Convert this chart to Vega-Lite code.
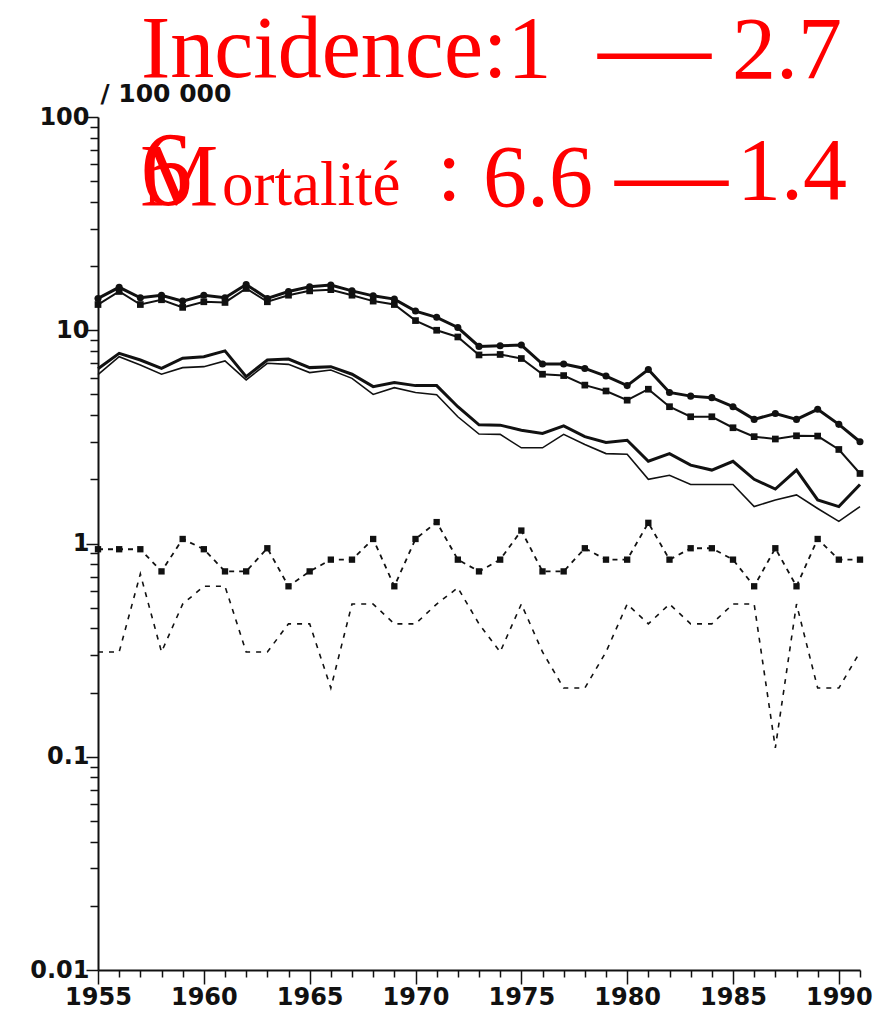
{
  "$schema": "https://vega.github.io/schema/vega-lite/v6.json",
  "autosize": {"type": "none"},
  "width": 762,
  "height": 853,
  "padding": {"left": 98, "top": 117, "right": 25, "bottom": 53},
  "background": "white",
  "config": {"view": {"stroke": null}},
  "datasets": {
    "series": [
    {"s":"A","year":1955,"v":14.1},{"s":"A","year":1956,"v":15.9},{"s":"A","year":1957,"v":14.2},{"s":"A","year":1958,"v":14.6},{"s":"A","year":1959,"v":13.7},{"s":"A","year":1960,"v":14.6},{"s":"A","year":1961,"v":14.2},{"s":"A","year":1962,"v":16.4},{"s":"A","year":1963,"v":14.1},{"s":"A","year":1964,"v":15.2},{"s":"A","year":1965,"v":16.0},{"s":"A","year":1966,"v":16.3},{"s":"A","year":1967,"v":15.3},{"s":"A","year":1968,"v":14.5},{"s":"A","year":1969,"v":14.0},{"s":"A","year":1970,"v":12.3},{"s":"A","year":1971,"v":11.5},{"s":"A","year":1972,"v":10.3},{"s":"A","year":1973,"v":8.4},{"s":"A","year":1974,"v":8.46},{"s":"A","year":1975,"v":8.52},{"s":"A","year":1976,"v":6.94},{"s":"A","year":1977,"v":6.94},{"s":"A","year":1978,"v":6.62},{"s":"A","year":1979,"v":6.1},{"s":"A","year":1980,"v":5.5},{"s":"A","year":1981,"v":6.55},{"s":"A","year":1982,"v":5.11},{"s":"A","year":1983,"v":4.91},{"s":"A","year":1984,"v":4.83},{"s":"A","year":1985,"v":4.38},{"s":"A","year":1986,"v":3.82},{"s":"A","year":1987,"v":4.07},{"s":"A","year":1988,"v":3.82},{"s":"A","year":1989,"v":4.26},{"s":"A","year":1990,"v":3.62},{"s":"A","year":1991,"v":3.0},
    {"s":"B","year":1955,"v":13.2},{"s":"B","year":1956,"v":15.2},{"s":"B","year":1957,"v":13.2},{"s":"B","year":1958,"v":13.9},{"s":"B","year":1959,"v":12.8},{"s":"B","year":1960,"v":13.6},{"s":"B","year":1961,"v":13.5},{"s":"B","year":1962,"v":15.7},{"s":"B","year":1963,"v":13.6},{"s":"B","year":1964,"v":14.6},{"s":"B","year":1965,"v":15.3},{"s":"B","year":1966,"v":15.5},{"s":"B","year":1967,"v":14.6},{"s":"B","year":1968,"v":13.7},{"s":"B","year":1969,"v":13.2},{"s":"B","year":1970,"v":11.1},{"s":"B","year":1971,"v":10.0},{"s":"B","year":1972,"v":9.3},{"s":"B","year":1973,"v":7.66},{"s":"B","year":1974,"v":7.7},{"s":"B","year":1975,"v":7.37},{"s":"B","year":1976,"v":6.22},{"s":"B","year":1977,"v":6.13},{"s":"B","year":1978,"v":5.53},{"s":"B","year":1979,"v":5.19},{"s":"B","year":1980,"v":4.7},{"s":"B","year":1981,"v":5.29},{"s":"B","year":1982,"v":4.38},{"s":"B","year":1983,"v":3.93},{"s":"B","year":1984,"v":3.93},{"s":"B","year":1985,"v":3.49},{"s":"B","year":1986,"v":3.17},{"s":"B","year":1987,"v":3.09},{"s":"B","year":1988,"v":3.2},{"s":"B","year":1989,"v":3.19},{"s":"B","year":1990,"v":2.76},{"s":"B","year":1991,"v":2.13},
    {"s":"C","year":1955,"v":6.6},{"s":"C","year":1956,"v":7.79},{"s":"C","year":1957,"v":7.25},{"s":"C","year":1958,"v":6.62},{"s":"C","year":1959,"v":7.4},{"s":"C","year":1960,"v":7.52},{"s":"C","year":1961,"v":8.0},{"s":"C","year":1962,"v":6.06},{"s":"C","year":1963,"v":7.25},{"s":"C","year":1964,"v":7.33},{"s":"C","year":1965,"v":6.68},{"s":"C","year":1966,"v":6.75},{"s":"C","year":1967,"v":6.22},{"s":"C","year":1968,"v":5.44},{"s":"C","year":1969,"v":5.69},{"s":"C","year":1970,"v":5.5},{"s":"C","year":1971,"v":5.5},{"s":"C","year":1972,"v":4.38},{"s":"C","year":1973,"v":3.6},{"s":"C","year":1974,"v":3.59},{"s":"C","year":1975,"v":3.4},{"s":"C","year":1976,"v":3.28},{"s":"C","year":1977,"v":3.56},{"s":"C","year":1978,"v":3.17},{"s":"C","year":1979,"v":2.98},{"s":"C","year":1980,"v":3.05},{"s":"C","year":1981,"v":2.43},{"s":"C","year":1982,"v":2.64},{"s":"C","year":1983,"v":2.33},{"s":"C","year":1984,"v":2.21},{"s":"C","year":1985,"v":2.43},{"s":"C","year":1986,"v":2.0},{"s":"C","year":1987,"v":1.8},{"s":"C","year":1988,"v":2.21},{"s":"C","year":1989,"v":1.6},{"s":"C","year":1990,"v":1.49},{"s":"C","year":1991,"v":1.89},
    {"s":"D","year":1955,"v":6.2},{"s":"D","year":1956,"v":7.52},{"s":"D","year":1957,"v":6.87},{"s":"D","year":1958,"v":6.22},{"s":"D","year":1959,"v":6.68},{"s":"D","year":1960,"v":6.75},{"s":"D","year":1961,"v":7.18},{"s":"D","year":1962,"v":5.85},{"s":"D","year":1963,"v":7.0},{"s":"D","year":1964,"v":6.92},{"s":"D","year":1965,"v":6.33},{"s":"D","year":1966,"v":6.51},{"s":"D","year":1967,"v":5.95},{"s":"D","year":1968,"v":5.0},{"s":"D","year":1969,"v":5.38},{"s":"D","year":1970,"v":5.11},{"s":"D","year":1971,"v":4.98},{"s":"D","year":1972,"v":3.93},{"s":"D","year":1973,"v":3.26},{"s":"D","year":1974,"v":3.25},{"s":"D","year":1975,"v":2.81},{"s":"D","year":1976,"v":2.81},{"s":"D","year":1977,"v":3.25},{"s":"D","year":1978,"v":2.91},{"s":"D","year":1979,"v":2.64},{"s":"D","year":1980,"v":2.62},{"s":"D","year":1981,"v":2.0},{"s":"D","year":1982,"v":2.09},{"s":"D","year":1983,"v":1.89},{"s":"D","year":1984,"v":1.89},{"s":"D","year":1985,"v":1.89},{"s":"D","year":1986,"v":1.49},{"s":"D","year":1987,"v":1.6},{"s":"D","year":1988,"v":1.69},{"s":"D","year":1989,"v":1.46},{"s":"D","year":1990,"v":1.27},{"s":"D","year":1991,"v":1.49},
    {"s":"E","year":1955,"v":0.94},{"s":"E","year":1956,"v":0.94},{"s":"E","year":1957,"v":0.94},{"s":"E","year":1958,"v":0.74},{"s":"E","year":1959,"v":1.05},{"s":"E","year":1960,"v":0.94},{"s":"E","year":1961,"v":0.74},{"s":"E","year":1962,"v":0.74},{"s":"E","year":1963,"v":0.95},{"s":"E","year":1964,"v":0.63},{"s":"E","year":1965,"v":0.74},{"s":"E","year":1966,"v":0.84},{"s":"E","year":1967,"v":0.84},{"s":"E","year":1968,"v":1.05},{"s":"E","year":1969,"v":0.63},{"s":"E","year":1970,"v":1.05},{"s":"E","year":1971,"v":1.26},{"s":"E","year":1972,"v":0.84},{"s":"E","year":1973,"v":0.74},{"s":"E","year":1974,"v":0.84},{"s":"E","year":1975,"v":1.15},{"s":"E","year":1976,"v":0.74},{"s":"E","year":1977,"v":0.74},{"s":"E","year":1978,"v":0.95},{"s":"E","year":1979,"v":0.84},{"s":"E","year":1980,"v":0.84},{"s":"E","year":1981,"v":1.25},{"s":"E","year":1982,"v":0.84},{"s":"E","year":1983,"v":0.95},{"s":"E","year":1984,"v":0.95},{"s":"E","year":1985,"v":0.84},{"s":"E","year":1986,"v":0.63},{"s":"E","year":1987,"v":0.95},{"s":"E","year":1988,"v":0.63},{"s":"E","year":1989,"v":1.05},{"s":"E","year":1990,"v":0.84},{"s":"E","year":1991,"v":0.84},
    {"s":"F","year":1955,"v":0.31},{"s":"F","year":1956,"v":0.31},{"s":"F","year":1957,"v":0.72},{"s":"F","year":1958,"v":0.31},{"s":"F","year":1959,"v":0.52},{"s":"F","year":1960,"v":0.63},{"s":"F","year":1961,"v":0.63},{"s":"F","year":1962,"v":0.31},{"s":"F","year":1963,"v":0.31},{"s":"F","year":1964,"v":0.42},{"s":"F","year":1965,"v":0.42},{"s":"F","year":1966,"v":0.21},{"s":"F","year":1967,"v":0.52},{"s":"F","year":1968,"v":0.52},{"s":"F","year":1969,"v":0.42},{"s":"F","year":1970,"v":0.42},{"s":"F","year":1971,"v":0.52},{"s":"F","year":1972,"v":0.62},{"s":"F","year":1973,"v":0.42},{"s":"F","year":1974,"v":0.31},{"s":"F","year":1975,"v":0.52},{"s":"F","year":1976,"v":0.31},{"s":"F","year":1977,"v":0.21},{"s":"F","year":1978,"v":0.21},{"s":"F","year":1979,"v":0.31},{"s":"F","year":1980,"v":0.52},{"s":"F","year":1981,"v":0.42},{"s":"F","year":1982,"v":0.52},{"s":"F","year":1983,"v":0.42},{"s":"F","year":1984,"v":0.42},{"s":"F","year":1985,"v":0.52},{"s":"F","year":1986,"v":0.52},{"s":"F","year":1987,"v":0.11},{"s":"F","year":1988,"v":0.52},{"s":"F","year":1989,"v":0.21},{"s":"F","year":1990,"v":0.21},{"s":"F","year":1991,"v":0.31}
    ],
    "notes": [
      {"t": "Incidence:1", "style": "big", "year": 1957.03, "v": 154.0},
      {"t": "—", "style": "dash", "year": 1978.62, "v": 145.9},
      {"t": "2.7", "style": "big", "year": 1984.95, "v": 152.4},
      {"t": "6", "style": "six", "year": 1956.98, "v": 38.67},
      {"t": "M", "style": "big", "year": 1956.98, "v": 38.67},
      {"t": "ortalité", "style": "small", "year": 1960.86, "v": 38.67},
      {"t": ":", "style": "big", "year": 1971.02, "v": 40.82},
      {"t": "6.6", "style": "big", "year": 1973.19, "v": 38.25},
      {"t": "—", "style": "dash", "year": 1979.43, "v": 37.03},
      {"t": "1.4", "style": "big", "year": 1985.19, "v": 41.26}
    ]
  },
  "data": {"name": "series"},
  "encoding": {
    "x": {"field": "year", "type": "quantitative",
      "scale": {"domain": [1955, 1991], "nice": false, "zero": false},
      "axis": {"title": null, "values": [1955,1956,1957,1958,1959,1960,1961,1962,1963,1964,1965,1966,1967,1968,1969,1970,1971,1972,1973,1974,1975,1976,1977,1978,1979,1980,1981,1982,1983,1984,1985,1986,1987,1988,1989,1990,1991],
        "format": "d", "labelExpr": "datum.value % 5 == 0 ? datum.label : ''",
        "tickSize": {"condition": {"test": "datum.value % 5 == 0", "value": 14}, "value": 7},
        "tickWidth": 1.5, "tickColor": "#111", "domainColor": "#111", "domainWidth": 2,
        "labelFont": "DejaVu Sans", "labelFontWeight": "bold", "labelFontSize": 24, "labelColor": "#111",
        "labelPadding": 1, "labelFlush": false, "labelOverlap": false, "grid": false}},
    "y": {"field": "v", "type": "quantitative",
      "scale": {"type": "log", "domain": [0.01, 100], "nice": false},
      "axis": {"title": "/ 100 000", "titleAngle": 0, "titleAlign": "left", "titleBaseline": "alphabetic",
        "titleX": 2, "titleY": -16, "titleFont": "DejaVu Sans", "titleFontWeight": "bold", "titleFontSize": 25, "titleColor": "#111",
        "values": [0.01,0.02,0.03,0.04,0.05,0.06,0.07,0.08,0.09,0.1,0.2,0.3,0.4,0.5,0.6,0.7,0.8,0.9,1,2,3,4,5,6,7,8,9,10,20,30,40,50,60,70,80,90,100],
        "labelExpr": "indexof([0.01,0.1,1,10,100], datum.value) >= 0 ? format(datum.value, '~g') : ''",
        "tickSize": {"condition": {"test": "indexof([0.01,0.1,1,10,100], datum.value) >= 0", "value": 12}, "value": 8},
        "tickWidth": 1.5, "tickColor": "#111", "domainColor": "#111", "domainWidth": 2,
        "labelFont": "DejaVu Sans", "labelFontWeight": "bold", "labelFontSize": 24, "labelColor": "#111",
        "labelPadding": -3, "labelOverlap": false, "grid": false}}
  },
  "layer": [
    {"transform": [{"filter": "datum.s == 'F'"}],
     "mark": {"type": "line", "color": "#111", "strokeWidth": 1.6, "strokeDash": [5, 6]}},
    {"transform": [{"filter": "datum.s == 'E'"}],
     "mark": {"type": "line", "color": "#111", "strokeWidth": 1.8, "strokeDash": [5, 5],
              "point": {"shape": "square", "size": 40, "filled": true, "color": "#111"}}},
    {"transform": [{"filter": "datum.s == 'D'"}],
     "mark": {"type": "line", "color": "#111", "strokeWidth": 1.6}},
    {"transform": [{"filter": "datum.s == 'C'"}],
     "mark": {"type": "line", "color": "#111", "strokeWidth": 3}},
    {"transform": [{"filter": "datum.s == 'B'"}],
     "mark": {"type": "line", "color": "#111", "strokeWidth": 2,
              "point": {"shape": "square", "size": 45, "filled": true, "color": "#111"}}},
    {"transform": [{"filter": "datum.s == 'A'"}],
     "mark": {"type": "line", "color": "#111", "strokeWidth": 3,
              "point": {"shape": "circle", "size": 50, "filled": true, "color": "#111"}}},
    {"data": {"name": "notes"}, "transform": [{"filter": "datum.style == 'big'"}],
     "mark": {"type": "text", "font": "Liberation Serif", "fontSize": 88, "color": "#ff0000", "align": "left", "baseline": "alphabetic"},
     "encoding": {"text": {"field": "t"}}},
    {"data": {"name": "notes"}, "transform": [{"filter": "datum.style == 'dash'"}],
     "mark": {"type": "text", "font": "Liberation Serif", "fontSize": 113, "color": "#ff0000", "align": "left", "baseline": "alphabetic"},
     "encoding": {"text": {"field": "t"}}},
    {"data": {"name": "notes"}, "transform": [{"filter": "datum.style == 'six'"}],
     "mark": {"type": "text", "font": "Liberation Serif", "fontSize": 105, "color": "#ff0000", "align": "left", "baseline": "alphabetic"},
     "encoding": {"text": {"field": "t"}}},
    {"data": {"name": "notes"}, "transform": [{"filter": "datum.style == 'small'"}],
     "mark": {"type": "text", "font": "Liberation Serif", "fontSize": 63, "color": "#ff0000", "align": "left", "baseline": "alphabetic"},
     "encoding": {"text": {"field": "t"}}}
  ]
}
